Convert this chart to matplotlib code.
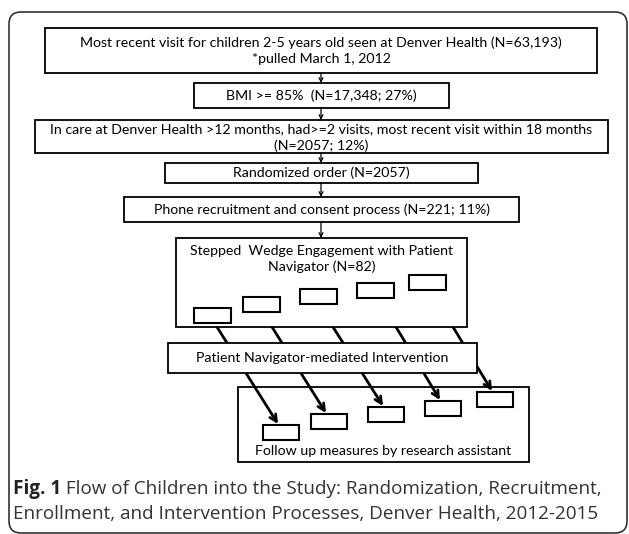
import matplotlib
matplotlib.use("Agg")
import matplotlib.pyplot as plt
from matplotlib.patches import Rectangle, FancyBboxPatch

# flow text (top to bottom)
box_texts = [
    "Most recent visit for children 2-5 years old seen at Denver Health (N=63,193)\n*pulled March 1, 2012",
    "BMI >= 85%  (N=17,348; 27%)",
    "In care at Denver Health >12 months, had>=2 visits, most recent visit within 18 months\n(N=2057; 12%)",
    "Randomized order (N=2057)",
    "Phone recruitment and consent process (N=221; 11%)",
]
wedge_text = "Stepped  Wedge Engagement with Patient\nNavigator (N=82)"
pn_text = "Patient Navigator-mediated Intervention"
follow_text = "Follow up measures by research assistant"
caption_bold = "Fig. 1"
caption_rest = (" Flow of Children into the Study: Randomization, Recruitment,",
                "Enrollment, and Intervention Processes, Denver Health, 2012-2015")

# layout, in pixels (x0, x1, y0, y1), y down
box_geo = [(45, 597, 28, 73), (194, 449, 83, 108), (35, 608, 120, 153),
           (165, 478, 163, 183), (124, 519, 197, 222)]
text_y = [51, 96, 138, 173, 210]
wedge_geo = (176, 467, 238, 327)
pn_geo = (168, 477, 343, 373)
follow_geo = (238, 529, 387, 462)
step_x = [194, 243, 300, 357, 409]
step_y = [308, 297, 289, 283, 275]
fu_x = [263, 311, 368, 425, 477]
fu_y = [425, 414, 407, 401, 392]
arrow_start = [217, 272, 333, 396, 453]
SW, SH = 37, 15

FONT = "Lato"
FS = 10.2
fig = plt.figure(figsize=(6.29, 5.34), dpi=100)
ax = fig.add_axes([0, 0, 1, 1])
ax.set_xlim(0, 629)
ax.set_ylim(534, 0)
ax.axis("off")


def rect(x0, x1, y0, y1, lw=1.3, z=2):
    ax.add_patch(Rectangle((x0, y0), x1 - x0, y1 - y0, fc="white", ec="black", lw=lw, zorder=z))


# outer frame
ax.add_patch(FancyBboxPatch((9, 12), 618, 521, boxstyle="round,pad=0,rounding_size=12",
                            fc="white", ec="#333333", lw=1.2, zorder=0))

for (x0, x1, y0, y1), ty, t in zip(box_geo, text_y, box_texts):
    rect(x0, x1, y0, y1)
    ax.text((x0 + x1) / 2, ty, t, ha="center", va="center", fontsize=FS, family=FONT,
            linespacing=1.4, zorder=5)

# vertical arrows between stacked boxes
tops = [g[2] for g in box_geo[1:]] + [wedge_geo[2]]
for g, t in zip(box_geo, tops):
    ax.annotate("", xy=(321, t), xytext=(321, g[3]),
                arrowprops=dict(arrowstyle="->", lw=0.9, color="black", shrinkA=0, shrinkB=0,
                                mutation_scale=7), zorder=6)

# stepped wedge box
x0, x1, y0, y1 = wedge_geo
rect(x0, x1, y0, y1)
ax.text((x0 + x1) / 2, y0 + 21, wedge_text, ha="center", va="center", fontsize=FS,
        family=FONT, linespacing=1.4, zorder=5)
for sx, sy in zip(step_x, step_y):
    rect(sx, sx + SW, sy, sy + SH, lw=1.5, z=3)

# long diagonal arrows
for sx, fx, fy in zip(arrow_start, fu_x, fu_y):
    ax.annotate("", xy=(fx + 15, fy - 1), xytext=(sx, wedge_geo[3]),
                arrowprops=dict(arrowstyle="->", lw=2.0, color="black", shrinkA=0, shrinkB=0,
                                mutation_scale=12), zorder=1.5)

# patient navigator box
x0, x1, y0, y1 = pn_geo
rect(x0, x1, y0, y1, z=3)
ax.text((x0 + x1) / 2, (y0 + y1) / 2, pn_text, ha="center", va="center", fontsize=FS,
        family=FONT, zorder=5)

# follow up box
x0, x1, y0, y1 = follow_geo
rect(x0, x1, y0, y1, z=1)
ax.text((x0 + x1) / 2, 451, follow_text, ha="center", va="center", fontsize=FS,
        family=FONT, zorder=5)
for fx, fy in zip(fu_x, fu_y):
    rect(fx, fx + SW - 1, fy, fy + SH, lw=1.5, z=3)

# caption
CFS = 13.6
t = ax.text(13, 489, caption_bold, ha="left", va="center", fontsize=CFS, family="Open Sans",
            weight="bold", color="#222222")
fig.canvas.draw()
bb = t.get_window_extent()
xe = ax.transData.inverted().transform((bb.x1, bb.y0))[0]
ax.text(xe, 489, caption_rest[0], ha="left", va="center", fontsize=CFS, family="Open Sans",
        color="#333333")
ax.text(13, 514, caption_rest[1], ha="left", va="center", fontsize=CFS, family="Open Sans",
        color="#333333")

fig.savefig("out.png", dpi=100)
